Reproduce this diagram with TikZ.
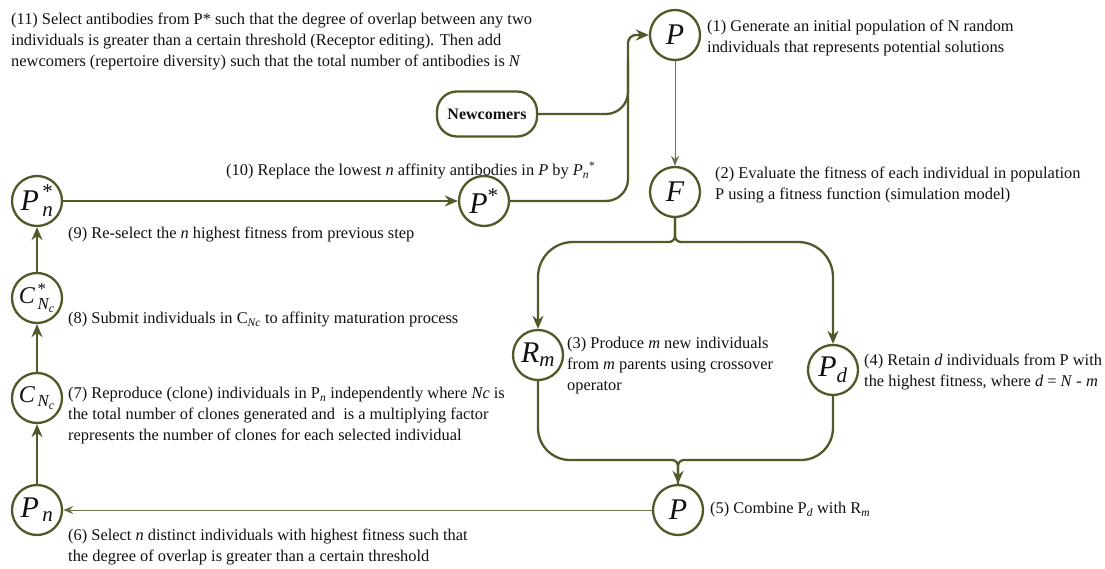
\documentclass[tikz,border=0pt]{standalone}
\usepackage{amsmath}
\usepackage{fontspec}
\setmainfont{Liberation Serif}
\usetikzlibrary{arrows.meta,positioning}
\definecolor{moss}{HTML}{4F5A28}
\definecolor{ink}{HTML}{111111}
\tikzset{
  pop/.style={circle, draw=moss, line width=2.3pt, fill=white, minimum size=50pt,
              inner sep=0pt, font=\fontsize{30}{30}\selectfont, text=ink},
  popsm/.style={pop, font=\fontsize{24}{24}\selectfont},
  src/.style={draw=moss, line width=2.3pt, rounded corners=20pt, minimum width=100pt,
              minimum height=45pt, font=\fontsize{16}{16}\selectfont\bfseries, text=ink},
  note/.style={anchor=north west, inner sep=0pt, align=left,
               font=\fontsize{16.4}{21}\selectfont, text=ink},
  link/.style={draw=moss, line width=2.3pt},
  faint/.style={draw=moss!85, line width=0.9pt},
  tip/.style={-{Stealth[length=13pt,width=11pt]}},
  smalltip/.style={-{Stealth[length=10pt,width=8pt]}},
}
\newcommand{\iv}[1]{\textit{#1}}

\begin{document}
\begin{tikzpicture}[x=1pt,y=-1pt]
    \useasboundingbox (0,0) rectangle (1105,569);
    % population nodes
    \node[pop] (ptop) at (675,35) {$\iv{P}$};
    \node[pop] (fpop) at (675,192) {$\iv{F}$};
    \node[src] (newc) at (487,114) {Newcomers};
    \node[pop] (pstar) at (484,201) {$\iv{P}^{\textup{*}}$};
    \node[pop] (pnstar) at (37,201) {$\iv{P}^{\,\textup{*}}_{\,\iv{n}}$};
    \node[popsm] (cstar) at (37,298) {$\iv{C}^{\,\textup{*}}_{\,\iv{N}_{\iv{c}}}$};
    \node[popsm] (cnc) at (37,398) {$\iv{C}_{\,\iv{N}_{\iv{c}}}$};
    \node[pop] (pn) at (37,510) {$\iv{P}_{\,\iv{n}}$};
    \node[pop] (rm) at (538,355) {$\iv{R}_{\iv{m}}$};
    \node[pop] (pd) at (833,370) {$\iv{P}_{\iv{d}}$};
    \node[pop] (pbot) at (678,510) {$\iv{P}$};
    % step texts
    \node[note] (t11) at (11,13) {(11) Select antibodies from P* such that the degree of overlap between any two\\
      individuals is greater than a certain threshold (Receptor editing). Then add\\
      newcomers (repertoire diversity) such that the total number of antibodies is \iv{N}};
    \node[note] (t1) at (707,20) {(1) Generate an initial population of N random\\individuals that represents potential solutions};
    \node[note] (t10) at (226,162) {(10) Replace the lowest \iv{n} affinity antibodies in \iv{P} by $\iv{P}_{\iv{n}}{}^{\textup{*}}$};
    \node[note] (t2) at (715,167) {(2) Evaluate the fitness of each individual in population\\P using a fitness function (simulation model)};
    \node[note] (t9) at (68,227) {(9) Re-select the \iv{n} highest fitness from previous step};
    \node[note] (t8) at (68,312) {(8) Submit individuals in C\textsubscript{\iv{Nc}} to affinity maturation process};
    \node[note] (t3) at (567,337) {(3) Produce \iv{m} new individuals\\from \iv{m} parents using crossover\\operator};
    \node[note] (t4) at (864,354) {(4) Retain \iv{d} individuals from P with\\the highest fitness, where \iv{d} = \iv{N} - \iv{m}};
    \node[note] (t7) at (68,387) {(7) Reproduce (clone) individuals in P\textsubscript{\iv{n}} independently where \iv{Nc} is\\
      the total number of clones generated and\ \ is a multiplying factor\\
      represents the number of clones for each selected individual};
    \node[note] (t5) at (710,502) {(5) Combine P\textsubscript{\iv{d}} with R\textsubscript{\iv{m}}};
    \node[note] (t6) at (68,529) {(6) Select \iv{n} distinct individuals with highest fitness such that\\the degree of overlap is greater than a certain threshold};
    % bend points
    \coordinate (join) at (628,60);
    \coordinate (forkL) at (610,242);
    \coordinate (forkR) at (740,242);
    \coordinate (mergeL) at (640,460);
    \coordinate (mergeR) at (715,460);
    % connectors
    \draw[link, rounded corners=22pt] (newc.east) -| (join);
    \draw[link, rounded corners=22pt] (pstar.east) -| (join);
    \draw[link, tip, rounded corners=8pt] (join) |- (ptop.west);
    \draw[faint, smalltip] (ptop) -- (fpop);
    \draw[link, rounded corners=6pt] (fpop.south) |- (forkL);
    \draw[link, rounded corners=6pt] (fpop.south) |- (forkR);
    \draw[link, tip, rounded corners=35pt] (forkL) -| (rm.north);
    \draw[link, tip, rounded corners=35pt] (forkR) -| (pd.north);
    \draw[link, rounded corners=32pt] (rm.south) |- (mergeL);
    \draw[link, rounded corners=32pt] (pd.south) |- (mergeR);
    \draw[link, rounded corners=6pt] (mergeR) -| (pbot.north);
    \draw[link, tip, rounded corners=6pt] (mergeL) -| (pbot.north);
    \draw[faint, smalltip] (pbot) -- (pn);
    \draw[link, tip] (pn) -- (cnc);
    \draw[link, tip] (cnc) -- (cstar);
    \draw[link, tip] (cstar) -- (pnstar);
    \draw[link, tip] (pnstar) -- (pstar);
  \end{tikzpicture}
\end{document}
